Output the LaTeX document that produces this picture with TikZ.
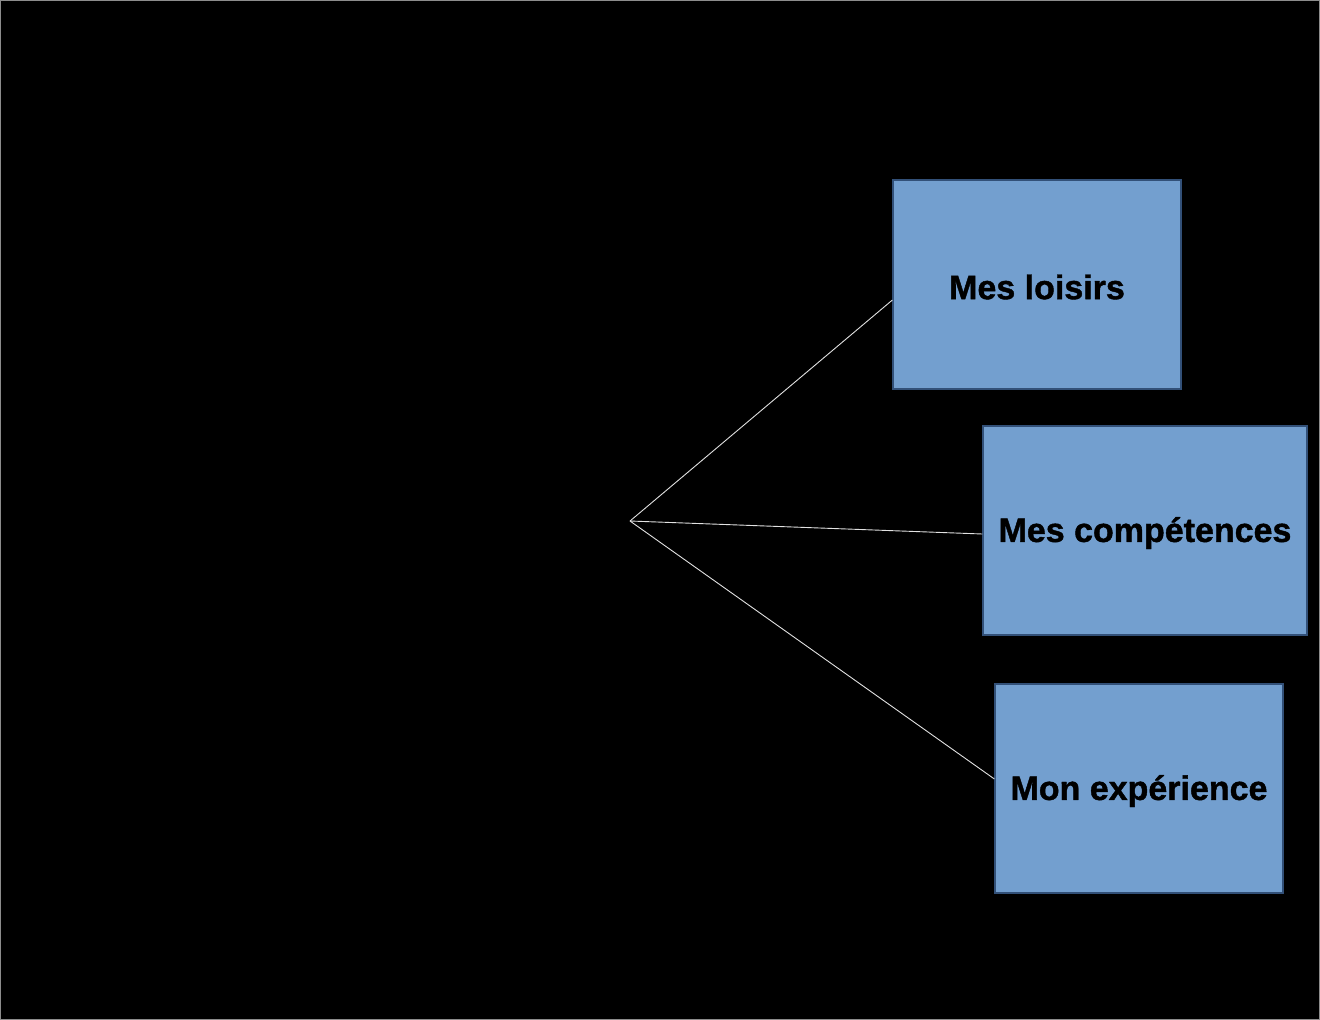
\documentclass[tikz,border=0pt]{standalone}
\usepackage{fontspec}
\setmainfont{Liberation Sans}
\newfontfamily\heavyfont[FakeBold=1.2]{Liberation Sans Bold}
\definecolor{boxfill}{RGB}{115,159,207}
\definecolor{boxedge}{RGB}{50,80,120}
\definecolor{linecol}{RGB}{225,225,225}
\definecolor{framecol}{RGB}{140,140,140}
\begin{document}
\begin{tikzpicture}[x=1pt,y=-1pt,
  topic/.style={draw=boxedge,line width=1.2pt,fill=boxfill,rectangle,inner sep=0pt,
    font=\heavyfont\fontsize{34}{40}\selectfont,text=black},
  link/.style={draw=linecol,line width=0.9pt}]
\fill[black] (0,0) rectangle (1320,1020);
\draw[framecol,line width=1.2pt] (0.6,0.6) rectangle (1319.4,1019.4);
\useasboundingbox (0,0) rectangle (1320,1020);
\coordinate (hub) at (630,521);
\node[topic,minimum width=288pt,minimum height=209pt] (loisirs) at (1037,284.5) {};
\node[topic,minimum width=324pt,minimum height=209pt] (comp) at (1145,530.5) {};
\node[topic,minimum width=288pt,minimum height=209pt] (exp) at (1139,788.5) {};
\node[font=\heavyfont\fontsize{34}{40}\selectfont] (t1) at ([yshift=-2.5pt]loisirs.center) {Mes loisirs};
\node[font=\heavyfont\fontsize{34}{40}\selectfont] (t2) at ([yshift=-2.5pt]comp.center) {Mes compétences};
\node[font=\heavyfont\fontsize{34}{40}\selectfont] (t3) at ([yshift=-2.5pt]exp.center) {Mon expérience};
\draw[link] (hub) -- (loisirs.west |- 0,300);
\draw[link] (hub) -- (comp.west |- 0,534);
\draw[link] (hub) -- (exp.west |- 0,779);
\end{tikzpicture}
\end{document}
